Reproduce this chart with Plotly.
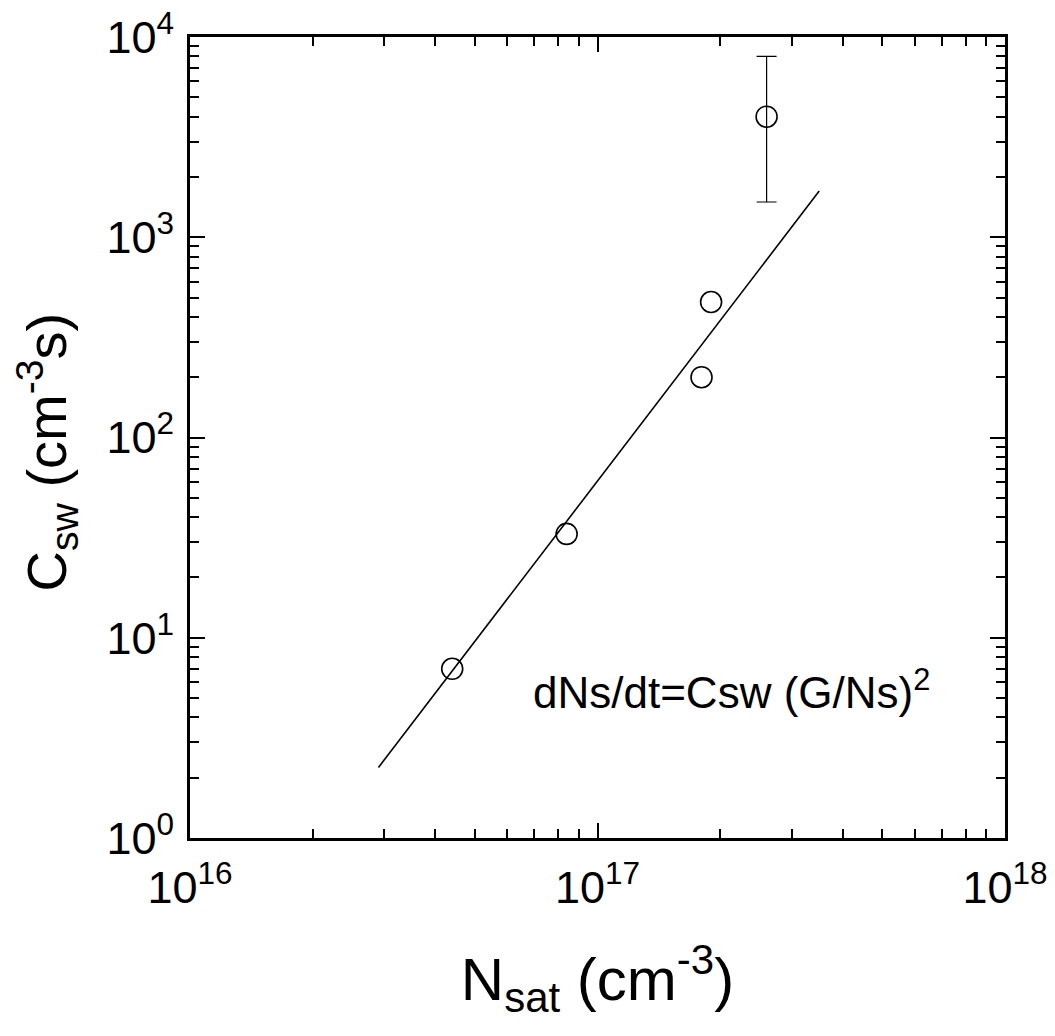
import plotly.graph_objects as go

# Measured saturation density vs. switching coefficient
n_sat = [4.4e16, 8.4e16, 1.8e17, 1.9e17]
c_sw = [7.0, 33.0, 200.0, 475.0]

# High-density point with its asymmetric uncertainty
n_sat_err = [2.6e17]
c_sw_err = [4000.0]
err_plus = [4000.0]
err_minus = [2500.0]

# Power-law fit line endpoints
fit_n = [2.9e16, 3.5e17]
fit_c = [2.25, 1700.0]

x_tickvals = [1e16, 1e17, 1e18]
x_ticktext = ["10<sup>16</sup>", "10<sup>17</sup>", "10<sup>18</sup>"]
y_tickvals = [1, 10, 100, 1000, 10000]
y_ticktext = ["10<sup>0</sup>", "10<sup>1</sup>", "10<sup>2</sup>", "10<sup>3</sup>", "10<sup>4</sup>"]

FONT = "Liberation Sans, Arial, Helvetica, sans-serif"
marker_style = dict(symbol="circle-open", size=21, color="black", line=dict(width=1.6))

fig = go.Figure()

fig.add_trace(go.Scatter(
    x=fit_n, y=fit_c, mode="lines",
    line=dict(color="black", width=1.6),
    showlegend=False, hoverinfo="skip",
))

fig.add_trace(go.Scatter(
    x=n_sat, y=c_sw, mode="markers",
    marker=marker_style, showlegend=False,
))

fig.add_trace(go.Scatter(
    x=n_sat_err, y=c_sw_err, mode="markers",
    marker=marker_style,
    error_y=dict(type="data", symmetric=False, array=err_plus, arrayminus=err_minus,
                 color="black", thickness=1.2, width=10),
    showlegend=False,
))

axis_common = dict(
    type="log", automargin=False,
    showline=True, linecolor="black", linewidth=3,
    mirror="ticks", ticks="inside", ticklen=15, tickwidth=2, tickcolor="black",
    minor=dict(ticks="inside", ticklen=9, tickwidth=1.5, tickcolor="black", dtick="D1", showgrid=False),
    showgrid=False, zeroline=False,
    tickfont=dict(family=FONT, size=45, color="black"),
)

fig.update_xaxes(
    **axis_common,
    range=[16, 18],
    tickmode="array", tickvals=x_tickvals, ticktext=x_ticktext,
    ticklabelstandoff=8,
    title=dict(text="N<sub>sat</sub> (cm<sup>-3</sup>)",
               font=dict(family=FONT, size=60, color="black"), standoff=46),
)
fig.update_yaxes(
    **axis_common,
    range=[0, 4],
    tickmode="array", tickvals=y_tickvals, ticktext=y_ticktext,
    ticklabelstandoff=4,
)

# Vertical axis title, placed further left than the default title slot
fig.add_annotation(
    x=-0.176, y=0.482, xref="paper", yref="paper",
    text="C<sub>sw</sub> (cm<sup>-3</sup>s)", textangle=-90,
    showarrow=False, xanchor="center", yanchor="middle",
    font=dict(family=FONT, size=56, color="black"),
)

fig.add_annotation(
    x=17.33, y=0.74, xref="x", yref="y",
    text="dNs/dt=Csw (G/Ns)<sup>2</sup>",
    showarrow=False,
    font=dict(family=FONT, size=44, color="black"),
)

fig.update_layout(
    width=1055, height=1036,
    margin=dict(l=190, r=50, t=37, b=198),
    paper_bgcolor="white", plot_bgcolor="white",
)

fig.write_html("out.html")
